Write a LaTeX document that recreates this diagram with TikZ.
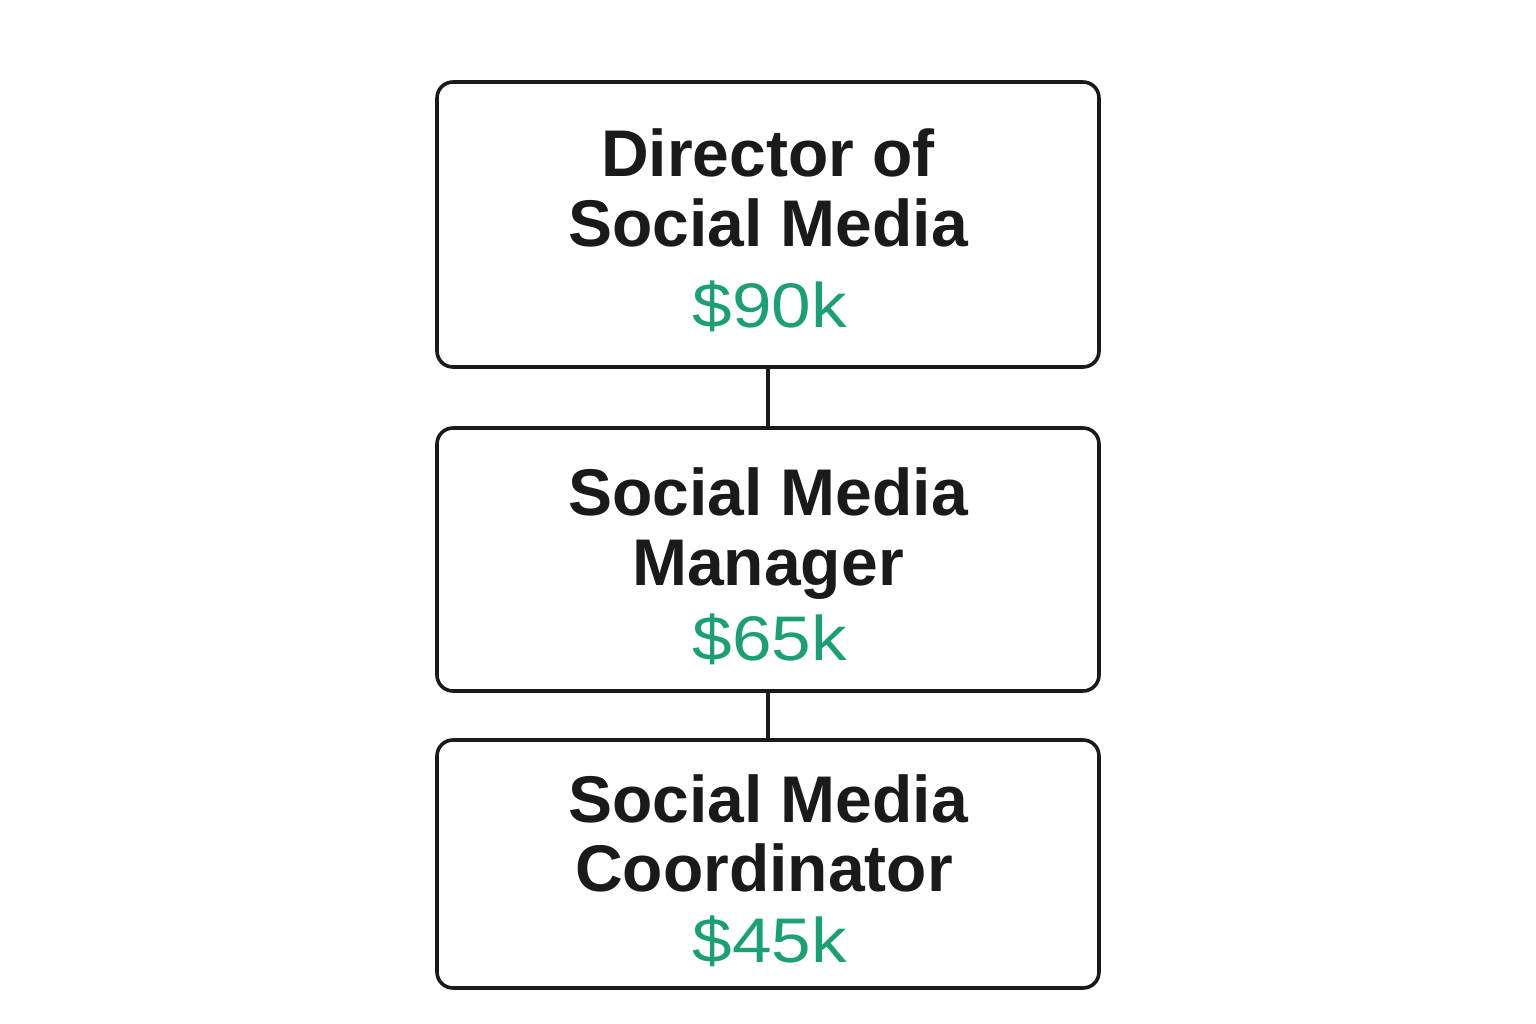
\documentclass[tikz,border=0pt]{standalone}
\usepackage{fontspec}
\setmainfont{Liberation Sans}
\newfontfamily\payfont[FakeStretch=1.13]{Liberation Sans}
\definecolor{salary}{HTML}{1E9E76}
\definecolor{ink}{HTML}{1A1A1A}
\begin{document}
\begin{tikzpicture}[x=1pt,y=1pt,
  card/.style={draw=ink,line width=3.6pt,rounded corners=16pt,fill=white,minimum width=662pt,inner sep=0pt},
  title/.style={anchor=base,inner sep=0pt,text=ink,font=\fontsize{66}{70}\selectfont\bfseries},
  pay/.style={anchor=base,inner sep=0pt,text=salary,font=\payfont\fontsize{63}{66}\selectfont},
  link/.style={draw=ink,line width=3.2pt}]
\useasboundingbox[fill=white] (0,0) rectangle (1536,-1024);
\node[card,minimum height=285pt] (b1) at (768,-224.5) {};
\node[card,minimum height=263pt] (b2) at (768,-559.5) {};
\node[card,minimum height=248pt] (b3) at (768,-864) {};
\draw[link] (b1.south) -- (b2.north);
\draw[link] (b2.south) -- (b3.north);
\node[title] (t1a) at (768,-177) {Director of};
\node[title] (t1b) at (768,-247) {Social Media};
\node[pay] (p1) at (770,-327) {\$90k};
\node[title] (t2a) at (768,-515) {Social Media};
\node[title] (t2b) at (768,-585) {Manager};
\node[pay] (p2) at (770,-660) {\$65k};
\node[title] (t3a) at (768,-822) {Social Media};
\node[title] (t3b) at (764,-891) {Coordinator};
\node[pay] (p3) at (770,-962) {\$45k};
\end{tikzpicture}
\end{document}
